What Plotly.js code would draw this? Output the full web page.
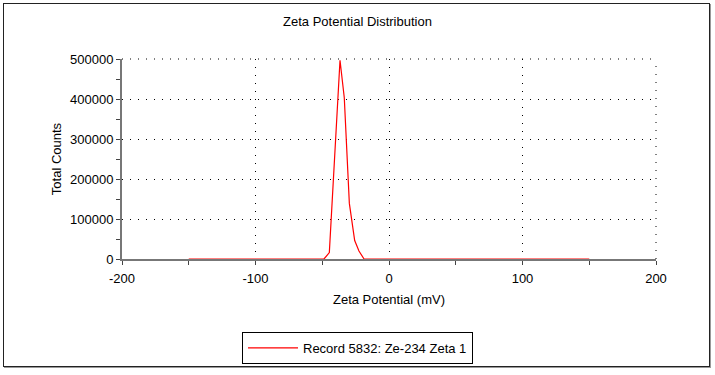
<!DOCTYPE html>
<html>
<head>
<meta charset="utf-8">
<script src="https://cdn.plot.ly/plotly-3.0.1.min.js"></script>
<style>
  html, body { margin: 0; padding: 0; background: #fff; }
  #wrap { position: relative; width: 715px; height: 375px; }
  #chart { position: absolute; left: 0; top: 0; width: 715px; height: 375px; }
  #frame { position: absolute; left: 3px; top: 3px; width: 705px; height: 362px;
           border: 1px solid #222; box-shadow: 1px 1px 0 #999; pointer-events: none; }
</style>
</head>
<body>
<div id="wrap">
  <div id="chart"></div>
  <div id="frame"></div>
</div>
<script>
// Data
const zetaPotential = [-150, -48.7, -44.7, -36.7, -33.5, -29.7, -25.7, -22.5, -18.7, 150];
const totalCounts   = [0, 0, 16000, 497000, 403000, 139000, 46000, 20000, 0, 0];
const seriesName = "Record 5832: Ze-234 Zeta 1";
const xTickVals = [-200, -100, 0, 100, 200];
const xTickText = ["-200", "-100", "0", "100", "200"];
const yTickVals = [0, 100000, 200000, 300000, 400000, 500000];
const yTickText = ["0", "100000", "200000", "300000", "400000", "500000"];

const font = { family: "Liberation Sans, Arial, sans-serif", size: 13, color: "#000" };
const gridDash = "1px,7px";

const trace = {
  x: zetaPotential,
  y: totalCounts,
  type: "scatter",
  mode: "lines",
  name: seriesName,
  line: { color: "#ff0000", width: 1.2 },
  showlegend: true
};

const layout = {
  width: 715,
  height: 375,
  margin: { l: 122, r: 59, t: 59, b: 116, autoexpand: false },
  paper_bgcolor: "#fff",
  plot_bgcolor: "#fff",
  font: font,
  title: { text: "Zeta Potential Distribution", font: font,
           x: 0.5, xref: "container", xanchor: "center", y: 0.942, yref: "container", yanchor: "middle" },
  xaxis: {
    range: [-200, 200], automargin: false,
    tickmode: "array", tickvals: xTickVals, ticktext: xTickText,
    ticks: "outside", ticklen: 4, tickcolor: "#444", tickwidth: 1,
    ticklabelstandoff: 2,
    minor: { dtick: 50, tick0: 0, ticks: "outside", ticklen: 4, tickcolor: "#444", showgrid: false },
    showline: true, linecolor: "#777", linewidth: 2,
    showgrid: true, gridcolor: "#000", gridwidth: 1, griddash: gridDash,
    zeroline: false,
    title: { text: "Zeta Potential (mV)", font: font, standoff: 10 },
    tickfont: font, fixedrange: true
  },
  yaxis: {
    range: [0, 500000], automargin: false,
    tickmode: "array", tickvals: yTickVals, ticktext: yTickText,
    ticks: "outside", ticklen: 4, tickcolor: "#444", tickwidth: 1,
    minor: { dtick: 50000, tick0: 0, ticks: "outside", ticklen: 4, tickcolor: "#444", showgrid: false },
    showline: true, linecolor: "#777", linewidth: 2,
    showgrid: true, gridcolor: "#000", gridwidth: 1, griddash: gridDash,
    zeroline: false,
    title: { text: "Total Counts", font: font, standoff: 5 },
    tickfont: font, fixedrange: true
  },
  shapes: [
    { type: "line", xref: "paper", yref: "paper", x0: 0, x1: 1, y0: 1, y1: 1,
      line: { color: "#000", width: 1, dash: gridDash }, layer: "below" },
    { type: "line", xref: "paper", yref: "paper", x0: 1, x1: 1, y0: 0, y1: 1,
      line: { color: "#000", width: 1, dash: gridDash }, layer: "below" }
  ],
  showlegend: true,
  legend: {
    orientation: "h",
    x: 0.441, xref: "paper", xanchor: "center",
    y: -0.365, yref: "paper", yanchor: "top",
    bordercolor: "#000", borderwidth: 1, bgcolor: "#fff",
    font: font, itemwidth: 50
  }
};

Plotly.newPlot("chart", [trace], layout, { displayModeBar: false, staticPlot: true });
</script>
</body>
</html>
